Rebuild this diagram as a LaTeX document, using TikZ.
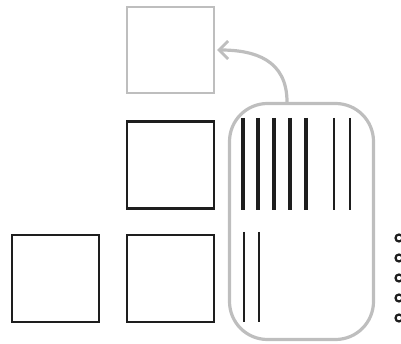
\documentclass[tikz,border=0pt]{standalone}
\usetikzlibrary{arrows.meta}
\definecolor{sketchgrey}{RGB}{190,190,190}
\definecolor{ink}{RGB}{30,30,30}
\begin{document}
\begin{tikzpicture}[x=1pt,y=-1pt,
  blackbox/.style={draw=ink,line width=2.4pt,minimum width=87pt,minimum height=87pt,inner sep=0pt},
  greybox/.style={draw=sketchgrey,line width=2.2pt,minimum width=87pt,minimum height=86pt,inner sep=0pt},
  capsule/.style={draw=sketchgrey,line width=3.2pt,rounded corners=38pt,minimum width=144pt,minimum height=236pt,inner sep=0pt},
  thickbar/.style={draw=ink,line width=3.6pt},
  thinbar/.style={draw=ink,line width=2.2pt},
  dot/.style={draw=ink,line width=2.2pt,circle,minimum size=7pt,inner sep=0pt},
  arr/.style={draw=sketchgrey,line width=3.2pt,-{Straight Barb[length=9pt,width=18pt,line width=2.8pt]}}]
\useasboundingbox (0,0) rectangle (401,344);
\node[greybox] (top) at (170.5,50) {};
\node[blackbox] (mid) at (170.5,165) {};
\node[blackbox] (bl) at (55.5,278.5) {};
\node[blackbox] (br) at (170.5,278.5) {};
\node[capsule] (cap) at (301.5,221.5) {};
% bars
\foreach \x/\n in {243/a,258/b,274/c,290/d,306/e}{
  \coordinate (t\n) at (\x,118); \coordinate (b\n) at (\x,210);
  \draw[thickbar] (t\n) -- (b\n);}
\foreach \x/\n in {334/f,350/g}{
  \coordinate (t\n) at (\x,118); \coordinate (b\n) at (\x,210);
  \draw[thinbar] (t\n) -- (b\n);}
\foreach \x/\n in {244/h,259/i}{
  \coordinate (t\n) at (\x,232); \coordinate (b\n) at (\x,322);
  \draw[thinbar] (t\n) -- (b\n);}
% dots
\foreach \y/\n in {238/1,258/2,278/3,298/4,318/5}{
  \node[dot] (o\n) at (399,\y) {};}
% arrow
\coordinate (arrstart) at (287,102);
\draw[arr] (arrstart) .. controls (287,60) and (255,50) .. ([xshift=2pt]top.east);
\end{tikzpicture}
\end{document}
